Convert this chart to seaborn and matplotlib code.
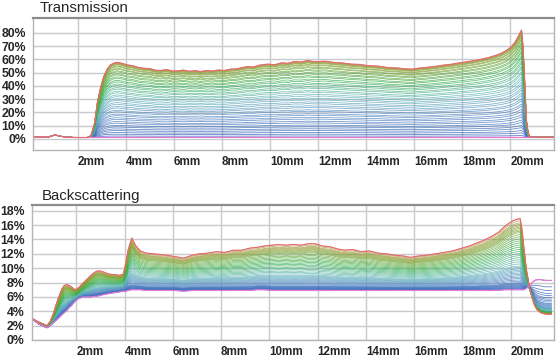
import numpy as np
import pandas as pd
import seaborn as sns
import matplotlib.pyplot as plt
from matplotlib.colors import LinearSegmentedColormap

# positions along the cell (mm) and profiles
trans_mm = [0.15, 0.5, 0.8, 1.05, 1.3, 1.6, 2.0, 2.4, 2.55, 2.7, 2.81, 2.95, 3.08, 3.22, 3.36,
            3.5, 3.64, 3.85, 4.06, 4.3, 4.5, 4.75, 5.0, 5.25, 5.45, 5.7, 5.95, 6.15, 6.4, 6.65,
            6.9, 7.12, 7.35, 7.6, 7.85, 8.09, 8.35, 8.6, 8.85, 9.07, 9.3, 9.55, 9.9, 10.2, 10.5,
            10.75, 11.0, 11.3, 11.57, 11.8, 12.0, 12.3, 12.68, 13.0, 13.4, 13.7, 14.07, 14.5,
            14.9, 15.3, 15.6, 15.9, 16.2, 16.5, 16.85, 17.2, 17.5, 17.8, 18.1, 18.45, 18.8, 19.1,
            19.4, 19.63, 19.85, 20.05, 20.2, 20.33, 20.41, 20.47, 20.53, 20.58, 20.63, 20.67,
            20.74, 20.81, 21.0, 21.3, 21.8]
# last scan (red)
trans_last = [1.5, 1.4, 1.6, 3.0, 2.0, 1.3, 1.1, 1.1, 2.5, 12.0, 27.0, 39.0, 47.0, 52.5, 55.8,
              57.2, 57.8, 57.0, 55.8, 55.2, 54.0, 53.3, 53.0, 51.8, 51.6, 52.3, 51.2, 51.3, 51.9, 51.0,
              51.5, 50.8, 51.6, 51.2, 52.0, 51.6, 52.6, 52.8, 53.8, 54.6, 54.2, 55.6, 56.4, 56.0, 57.4,
              57.0, 58.3, 58.0, 59.1, 58.4, 58.3, 58.6, 57.6, 57.3, 56.4, 56.2, 55.3, 54.9,
              53.8, 53.5, 52.9, 52.6, 53.4, 53.9, 54.6, 55.6, 56.2, 57.1, 57.9, 58.9, 60.1, 61.4,
              63.0, 64.6, 66.8, 69.6, 73.0, 77.1, 80.0, 82.1, 70.0, 52.0, 32.0, 14.5,
              5.0, 1.5, 1.3, 1.3, 1.3]
# first scan (pink)
trans_first = [1.5, 1.4, 1.6, 3.0, 2.0, 1.3, 1.1, 1.1, 1.2, 1.2, 1.2, 1.2, 1.2, 1.2, 1.2,
               1.2, 1.2, 1.2, 1.2, 1.2, 1.2, 1.2, 1.2, 1.2, 1.2, 1.2, 1.2, 1.2, 1.2, 1.2,
               1.2, 1.2, 1.2, 1.2, 1.2, 1.2, 1.2, 1.2, 1.2, 1.2, 1.2, 1.2, 1.2, 1.2, 1.2,
               1.2, 1.2, 1.2, 1.2, 1.2, 1.2, 1.2, 1.2, 1.2, 1.2, 1.2, 1.2, 1.2,
               1.2, 1.2, 1.2, 1.2, 1.2, 1.2, 1.2, 1.2, 1.2, 1.2, 1.2, 1.2, 1.2, 1.2,
               1.2, 1.2, 1.2, 1.2, 1.2, 1.2, 1.2, 1.2, 1.2, 1.2, 1.2, 1.2,
               1.2, 1.2, 1.3, 1.3, 1.3]
# level of every scan at 7.12 mm
trans_levels = [1.2, 2.1, 3.3, 4.4, 5.7, 6.8, 8.1, 9.2, 10.6, 11.7, 13.1, 14.2, 15.6, 16.6, 18.1,
                19.1, 20.6, 21.7, 23.1, 24.2, 25.6, 26.7, 28.1, 29.2, 30.6, 31.6, 33.1, 34.1,
                35.5, 36.5, 37.9, 38.9, 40.3, 41.2, 42.5, 43.3, 44.5, 45.2, 46.3, 46.9, 47.9,
                48.4, 49.2, 49.6, 50.0, 50.3, 50.6, 50.8]

bs_mm = [0.15, 0.45, 0.78, 0.92, 1.05, 1.15, 1.25, 1.4, 1.5, 1.6, 1.7, 1.8, 1.95, 2.1, 2.3,
         2.45, 2.6, 2.75, 2.85, 3.0, 3.1, 3.25, 3.4, 3.6, 3.8, 3.95, 4.05, 4.15, 4.3, 4.45,
         4.65, 4.9, 5.2, 5.5, 5.75, 6.1, 6.45, 6.8, 7.1, 7.45, 7.8, 8.15, 8.5, 8.85, 9.2, 9.5,
         9.8, 10.1, 10.4, 10.7, 11.0, 11.3, 11.6, 11.9, 12.2, 12.5, 12.8, 13.1, 13.45, 13.8,
         14.15, 14.5, 14.85, 15.2, 15.55, 15.85, 16.2, 16.5, 16.9, 17.25, 17.6, 18.0, 18.3,
         18.6, 18.9, 19.2, 19.5, 19.75, 19.95, 20.1, 20.25, 20.4, 20.47, 20.55, 20.65, 20.8,
         20.9, 21.0, 21.1, 21.25, 21.45, 21.7]
bs_last = [3.0, 2.5, 2.0, 2.6, 3.7, 4.8, 5.8, 7.1, 7.6, 7.7, 7.6, 7.4, 7.0, 7.3, 8.0,
           8.5, 9.0, 9.4, 9.6, 9.6, 9.5, 9.3, 9.15, 9.1, 9.0, 9.2, 10.7, 12.6, 14.2, 13.2,
           12.4, 12.1, 12.0, 11.9, 11.8, 11.6, 11.4, 11.8, 12.0, 12.1, 12.3, 12.2, 12.5, 12.5, 12.8, 12.9,
           13.1, 13.2, 13.3, 13.2, 13.3, 13.2, 13.4, 13.4, 13.1, 13.0, 12.7, 12.5, 12.6, 12.3,
           12.4, 12.1, 12.0, 11.8, 11.7, 11.5, 11.7, 11.8, 12.0, 12.2, 12.4, 12.8, 13.1,
           13.5, 13.9, 14.4, 15.0, 15.8, 16.3, 16.6, 16.8, 16.9, 15.5, 13.0, 10.0, 7.0,
           5.8, 4.8, 4.2, 3.8, 3.6, 3.6]
bs_first = [3.0, 2.2, 1.7, 2.0, 2.4, 2.7, 3.0, 3.5, 3.8, 4.1, 4.5, 4.8, 5.4, 5.8, 6.0,
            6.0, 6.0, 6.1, 6.1, 6.2, 6.3, 6.4, 6.5, 6.6, 6.7, 6.8, 6.8, 6.9, 7.0, 7.0,
            7.0, 6.9, 6.9, 6.9, 6.9, 6.9, 6.8, 6.9, 6.9, 6.9, 6.9, 6.9, 6.9, 6.9, 6.9, 7.0,
            7.0, 6.9, 6.9, 6.9, 6.9, 6.9, 6.9, 6.9, 6.9, 6.9, 6.9, 6.9, 6.9, 6.9,
            6.9, 6.9, 6.9, 6.9, 6.9, 6.9, 6.9, 6.9, 6.9, 6.9, 6.9, 6.9, 6.9,
            6.9, 6.9, 6.9, 6.9, 7.0, 7.0, 7.0, 7.0, 7.0, 7.0, 7.0, 7.2, 7.6,
            8.0, 8.3, 8.4, 8.4, 8.3, 8.3]
# level of every scan at 7.1 mm
bs_levels = [6.9, 6.95, 7.0, 7.05, 7.1, 7.15, 7.2, 7.25, 7.3, 7.35, 7.4, 7.5, 7.6, 7.7, 7.8,
             7.9, 8.0, 8.1, 8.2, 8.3, 8.4, 8.5, 8.6, 8.75, 8.9, 9.05, 9.2, 9.35, 9.5, 9.65,
             9.8, 9.95, 10.1, 10.25, 10.4, 10.55, 10.7, 10.85, 11.0, 11.1, 11.2, 11.3, 11.4,
             11.5, 11.6, 11.7, 11.85, 12.0]
# level of every scan at 21.7 mm (after the top of the cell)
bs_tail_levels = [8.3, 7.4, 6.9, 6.5, 6.2, 5.9, 5.7, 5.5, 5.3, 5.1, 5.0, 4.9, 4.8, 4.7, 4.6,
                  4.5, 4.45, 4.4, 4.35, 4.3, 4.25, 4.2, 4.15, 4.1, 4.05, 4.0, 3.98, 3.95, 3.92,
                  3.9, 3.88, 3.85, 3.83, 3.8, 3.78, 3.76, 3.74, 3.72, 3.7, 3.69, 3.68, 3.67,
                  3.66, 3.65, 3.64, 3.63, 3.62, 3.6]

x_ticks = [2, 4, 6, 8, 10, 12, 14, 16, 18, 20]
trans_ticks = [0, 10, 20, 30, 40, 50, 60, 70, 80]
bs_ticks = [0, 2, 4, 6, 8, 10, 12, 14, 16, 18]


def scans_frame(mm, first, last, levels, ref_mm, tail_levels=None, tail_mm=None, tail_from=None):
    mm_arr = np.array(mm)
    first = np.array(first)
    last = np.array(last)
    ref = mm.index(ref_mm)
    rows = []
    for i, lev in enumerate(levels):
        frac = (lev - first[ref]) / (last[ref] - first[ref])
        vals = first + frac * (last - first)
        if tail_levels is not None:
            t = mm.index(tail_mm)
            tfrac = (tail_levels[i] - first[t]) / (last[t] - first[t])
            tail = mm_arr >= tail_from
            vals[tail] = (first + tfrac * (last - first))[tail]
        rows.append(pd.DataFrame({'mm': mm, 'pct': vals, 'scan': i}))
    return pd.concat(rows, ignore_index=True)


sns.set_style('white')
plt.rcParams['font.family'] = ['Liberation Sans', 'DejaVu Sans']

n_scans = len(trans_levels)
cmap = LinearSegmentedColormap.from_list('scans', [
    (0.0, '#2656b4'), (0.28, '#4f86c2'), (0.48, '#5fb5b8'), (0.66, '#2fae4a'),
    (0.8, '#6aa634'), (0.93, '#8f9c32'), (0.98, '#a8963c'), (1.0, '#e46c6c')])
palette = [cmap(i / (n_scans - 1)) for i in range(n_scans)]
pink = '#e27ad8'

fig = plt.figure(figsize=(5.57, 3.58), dpi=100)
ax1 = fig.add_axes([0.0598, 0.581, 0.934, 0.3696])
ax2 = fig.add_axes([0.0569, 0.0503, 0.9377, 0.3771])

panels = [
    (ax1, scans_frame(trans_mm, trans_first, trans_last, trans_levels, 7.12),
     (-8.3, 91.4), trans_ticks),
    (ax2, scans_frame(bs_mm, bs_first, bs_last, bs_levels, 7.1, bs_tail_levels, 21.7, 20.8),
     (0, 18.8), bs_ticks),
]

for ax, df, ylim, yticks in panels:
    sns.lineplot(data=df, x='mm', y='pct', hue='scan', palette=palette, estimator=None,
                 sort=False, linewidth=0.55, alpha=0.8, legend=False, ax=ax)
    sns.lineplot(data=df[df['scan'] == 0], x='mm', y='pct', color=pink, estimator=None,
                 sort=False, linewidth=0.9, legend=False, ax=ax)
    sns.lineplot(data=df[df['scan'] == n_scans - 1], x='mm', y='pct', color='#e46c6c',
                 estimator=None, sort=False, linewidth=0.8, legend=False, ax=ax)
    ax.set_xlim(0.15, 21.8)
    ax.set_ylim(*ylim)
    ax.set_xticks(x_ticks)
    ax.set_xticklabels([f'{t}mm' for t in x_ticks], fontweight='bold', fontsize=8.4, ha='left')
    ax.set_yticks(yticks)
    ax.set_yticklabels([f'{t}%' for t in yticks], fontweight='bold', fontsize=8.8)
    ax.tick_params(axis='x', length=0, pad=4.5)
    ax.tick_params(axis='y', length=0, pad=5)
    ax.set_xlabel('')
    ax.set_ylabel('')
    ax.grid(True, color='#c9c9cf', linewidth=1.0)
    ax.set_axisbelow(True)
    for side in ['left', 'right', 'bottom']:
        ax.spines[side].set_color('#b4b4b4')
        ax.spines[side].set_linewidth(1.0)
    ax.spines['top'].set_color('#8c8c8c')
    ax.spines['top'].set_linewidth(1.6)

fig.text(0.072, 0.978, 'Transmission', fontsize=10.8, va='center', ha='left')
fig.text(0.075, 0.453, 'Backscattering', fontsize=10.8, va='center', ha='left')

fig.savefig('out.png', dpi=100)
